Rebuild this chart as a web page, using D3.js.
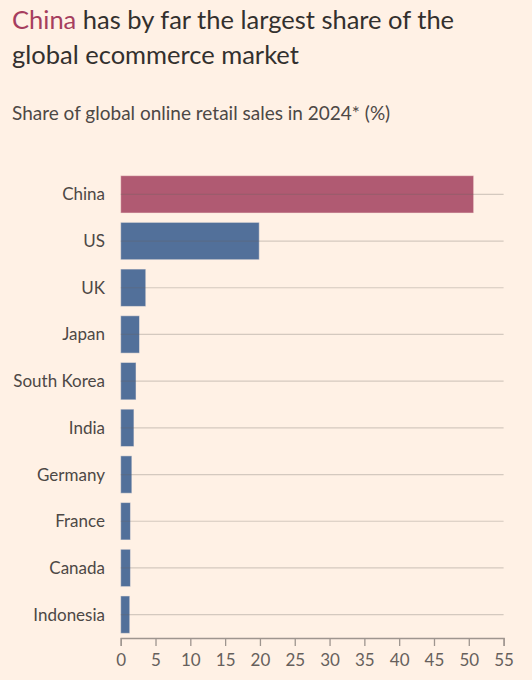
<!DOCTYPE html>
<html>
<head>
  <meta charset="utf-8">
  <title>Global ecommerce share</title>
  <script src="https://d3js.org/d3.v7.min.js"></script>
  <style>
    body { margin: 0; background: #fff1e5; font-family: Lato, "Open Sans", sans-serif; }
    svg { display: block; }
  </style>
</head>
<body>
  <script>
    // Data
    var countries = ["China", "US", "UK", "Japan", "South Korea", "India", "Germany", "France", "Canada", "Indonesia"];
    var shares = [50.7, 19.9, 3.6, 2.7, 2.2, 1.9, 1.6, 1.4, 1.4, 1.3];
    var xTicks = [0, 5, 10, 15, 20, 25, 30, 35, 40, 45, 50, 55];

    var data = countries.map(function(c, i) { return {country: c, value: shares[i]}; });

    var W = 532, H = 680;
    var svg = d3.select("body").append("svg")
      .attr("width", W)
      .attr("height", H);

    svg.append("rect").attr("width", W).attr("height", H).attr("fill", "#fff1e5");

    // Title
    var title = svg.append("text")
      .attr("x", 12)
      .attr("y", 29)
      .style("font-size", "25.5px")
      .attr("fill", "#33302e");
    title.append("tspan").attr("fill", "#a63e5e").text("China");
    title.append("tspan").text(" has by far the largest share of the");

    svg.append("text")
      .attr("x", 12)
      .attr("y", 64)
      .style("font-size", "25.5px")
      .attr("fill", "#33302e")
      .text("global ecommerce market");

    svg.append("text")
      .attr("x", 12)
      .attr("y", 120)
      .style("font-size", "19px")
      .attr("fill", "#4d4845")
      .text("Share of global online retail sales in 2024* (%)");

    // Scales
    var x = d3.scaleLinear()
      .domain([0, 55])
      .range([120.7, 503.6]);

    var y = d3.scaleBand()
      .domain(countries)
      .range([171, 638])
      .paddingInner(0.2)
      .paddingOuter(0.1);

    // Bars
    svg.selectAll(".bar")
      .data(data)
      .enter().append("rect")
      .attr("class", "bar")
      .attr("x", x(0))
      .attr("y", function(d) { return y(d.country); })
      .attr("width", function(d) { return x(d.value) - x(0); })
      .attr("height", y.bandwidth())
      .attr("fill", function(d) { return d.country === "China" ? "#b05a72" : "#52709a"; })
      .attr("stroke", "#fff1e5")
      .attr("stroke-opacity", 0.5)
      .attr("stroke-width", 1);

    // Gridlines over bars
    svg.selectAll(".grid")
      .data(countries)
      .enter().append("line")
      .attr("class", "grid")
      .attr("x1", x(0))
      .attr("x2", x(55))
      .attr("y1", function(d) { return y(d) + y.bandwidth() / 2; })
      .attr("y2", function(d) { return y(d) + y.bandwidth() / 2; })
      .attr("stroke", "#66605c")
      .attr("stroke-opacity", 0.28)
      .attr("stroke-width", 1.2);

    // Category labels
    svg.selectAll(".label")
      .data(countries)
      .enter().append("text")
      .attr("class", "label")
      .attr("x", 105)
      .attr("y", function(d) { return y(d) + y.bandwidth() / 2; })
      .attr("dy", "0.35em")
      .attr("text-anchor", "end")
      .style("font-size", "17px")
      .attr("fill", "#4d4845")
      .text(function(d) { return d; });

    // X axis
    var xAxis = svg.append("g")
      .attr("transform", "translate(0," + 638 + ")")
      .call(d3.axisBottom(x).tickValues(xTicks).tickSize(8).tickPadding(8).tickFormat(d3.format("d")));

    xAxis.select(".domain").attr("stroke", "#9e958f").attr("stroke-width", 1.3);
    xAxis.selectAll(".tick line").attr("stroke", "#9e958f").attr("stroke-width", 1.3);
    xAxis.selectAll(".tick text")
      .attr("fill", "#66605c")
      .style("font-size", "17px")
      .style("font-family", "Lato, 'Open Sans', sans-serif");
  </script>
</body>
</html>
